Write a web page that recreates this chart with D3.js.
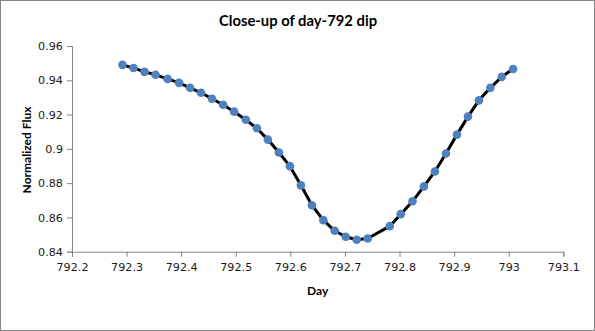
<!DOCTYPE html>
<html>
<head>
<meta charset="utf-8">
<script src="https://cdn.jsdelivr.net/npm/d3@7"></script>
<style>
  html, body { margin: 0; padding: 0; background: #fff; }
  svg { display: block; }
  text { font-family: Lato, "Open Sans", "Liberation Sans", sans-serif; }
</style>
</head>
<body>
<svg id="chart" width="595" height="331"></svg>
<script>
// Time of each sample (days) and its normalized flux
const days = [
  792.2925, 792.3127, 792.3328, 792.3530, 792.3752, 792.3961, 792.4163,
  792.4364, 792.4566, 792.4768, 792.4969, 792.5185, 792.5387, 792.5588,
  792.5790, 792.5992, 792.6193, 792.6395, 792.6604, 792.6812, 792.7014,
  792.7216, 792.7417, 792.7821, 792.8022, 792.8238, 792.8447, 792.8648,
  792.8850, 792.9052, 792.9253, 792.9455, 792.9664, 792.9872, 793.0081
];
const flux = [
  0.9490, 0.9472, 0.9449, 0.9432, 0.9408, 0.9385, 0.9356,
  0.9327, 0.9292, 0.9257, 0.9217, 0.9170, 0.9120, 0.9054,
  0.8979, 0.8899, 0.8787, 0.8671, 0.8584, 0.8522, 0.8487,
  0.8470, 0.8477, 0.8549, 0.8619, 0.8694, 0.8781, 0.8868,
  0.8973, 0.9083, 0.9188, 0.9283, 0.9356, 0.9420, 0.9466
];
const xTicks = [792.2, 792.3, 792.4, 792.5, 792.6, 792.7, 792.8, 792.9, 793, 793.1];
const yTicks = [0.84, 0.86, 0.88, 0.9, 0.92, 0.94, 0.96];

const W = 595, H = 331;
const plot = { left: 72, right: 563.3, top: 46, bottom: 251.7 };
const axisColor = "#868686";
const textColor = "#1a1a1a";

const svg = d3.select("#chart");

// outer frame
svg.append("rect")
  .attr("x", 0.5).attr("y", 0.5)
  .attr("width", W - 1).attr("height", H - 1)
  .attr("fill", "#fff").attr("stroke", axisColor).attr("stroke-width", 1);

const x = d3.scaleLinear().domain([792.2, 793.1]).range([plot.left, plot.right]);
const y = d3.scaleLinear().domain([0.84, 0.96]).range([plot.bottom, plot.top]);

// x axis
const gx = svg.append("g")
  .attr("transform", `translate(0,${plot.bottom})`)
  .call(d3.axisBottom(x).tickValues(xTicks).tickSize(5).tickPadding(6)
    .tickFormat(d => String(+d.toFixed(1))));
// y axis
const gy = svg.append("g")
  .attr("transform", `translate(${plot.left},0)`)
  .call(d3.axisLeft(y).tickValues(yTicks).tickSize(5).tickPadding(4)
    .tickFormat(d => String(+d.toFixed(2))));

[gx, gy].forEach(g => {
  g.select(".domain").attr("stroke", axisColor).attr("stroke-width", 1);
  g.selectAll(".tick line").attr("stroke", axisColor).attr("stroke-width", 1);
  g.selectAll(".tick text")
    .attr("fill", textColor)
    .style("font-size", "11.2px")
    .style("font-family", "'DejaVu Sans', Verdana, sans-serif");
});

// connecting line
const line = d3.line().x((d, i) => x(days[i])).y(d => y(d));
svg.append("path")
  .datum(flux)
  .attr("d", line)
  .attr("fill", "none")
  .attr("stroke", "#000")
  .attr("stroke-width", 3)
  .attr("stroke-linejoin", "round");

// sample markers
svg.append("g").selectAll("circle")
  .data(flux)
  .join("circle")
  .attr("cx", (d, i) => x(days[i]))
  .attr("cy", d => y(d))
  .attr("r", 4.3)
  .attr("fill", "#4F81BD");

// title
svg.append("text")
  .attr("x", 298).attr("y", 26)
  .attr("text-anchor", "middle")
  .attr("fill", "#000")
  .style("font-size", "14.8px").style("font-weight", "bold")
  .text("Close-up of day-792 dip");

// axis titles
svg.append("text")
  .attr("x", 317.7).attr("y", 295)
  .attr("text-anchor", "middle")
  .attr("fill", "#000")
  .style("font-size", "12px").style("font-weight", "bold")
  .text("Day");

svg.append("text")
  .attr("transform", "translate(31,150) rotate(-90)")
  .attr("text-anchor", "middle")
  .attr("fill", "#000")
  .style("font-size", "12px").style("font-weight", "bold")
  .text("Normalized Flux");
</script>
</body>
</html>
